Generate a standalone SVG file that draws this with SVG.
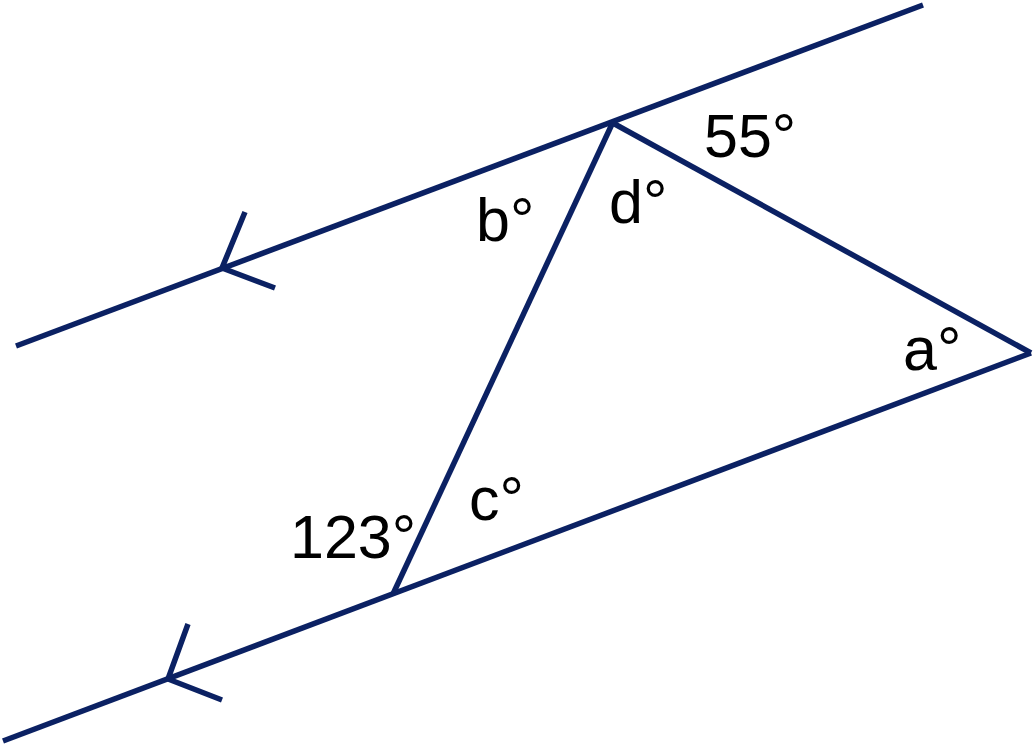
<svg xmlns="http://www.w3.org/2000/svg" width="1036" height="746" viewBox="0 0 1036 746">
<style>
.ln{stroke:#0b2163;stroke-width:5.5;fill:none;stroke-linecap:butt;stroke-linejoin:miter}
.lb{font-family:"Liberation Sans",Arial,sans-serif;font-size:61px;fill:#000}
</style>
<rect width="1036" height="746" fill="#fff"/>
<g id="connectors">
<line class="ln" x1="16" y1="346" x2="923" y2="5"/>
<line class="ln" x1="3" y1="741" x2="1031" y2="353"/>
<line class="ln" x1="613" y1="122" x2="393" y2="594"/>
<line class="ln" x1="611" y1="122" x2="1031" y2="353"/>
<polyline class="ln" points="245,212 222,268 275,288"/>
<polyline class="ln" points="188,624 168,679 222,700"/>
</g>
<g id="labels">
<text class="lb" x="704" y="157">55°</text>
<text class="lb" x="609" y="223">d°</text>
<text class="lb" x="476" y="241">b°</text>
<text class="lb" x="903" y="370">a°</text>
<text class="lb" x="469" y="520">c°</text>
<text class="lb" x="290" y="558">123°</text>
</g>
</svg>
